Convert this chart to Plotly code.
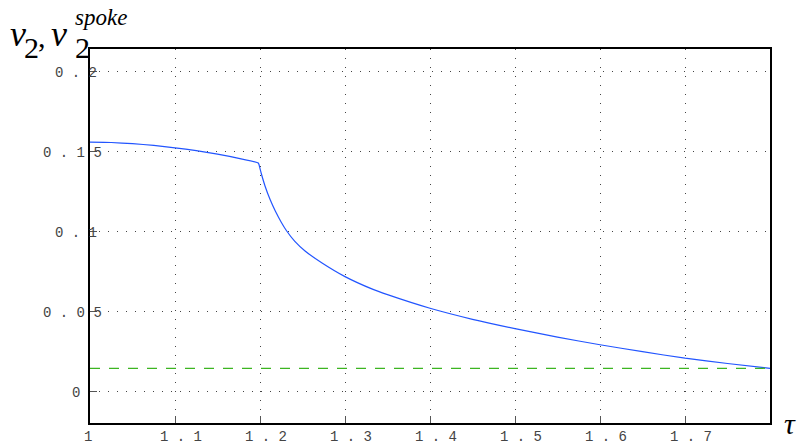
import plotly.graph_objects as go

# Flow coefficient v2 versus tau
tau = [1.000, 1.025, 1.050, 1.075, 1.100, 1.125, 1.150, 1.175, 1.198,
       1.200, 1.202, 1.206, 1.212, 1.218, 1.225, 1.231, 1.241, 1.253,
       1.273, 1.300, 1.333, 1.350, 1.400, 1.450, 1.500, 1.550, 1.600,
       1.650, 1.700, 1.750, 1.800]
v2 = [0.1555, 0.1553, 0.1546, 0.1535, 0.1520, 0.1502, 0.1480, 0.1454, 0.1425,
      0.1390, 0.1350, 0.1280, 0.1195, 0.1125, 0.1055, 0.1003, 0.0935, 0.0875,
      0.0800, 0.0715, 0.0635, 0.0602, 0.0517, 0.0448, 0.0390, 0.0337, 0.0289,
      0.0246, 0.0205, 0.0172, 0.0142]

# Constant spoke value
v2_spoke = 0.0142
tau_span = [1.0, 1.8]

x_ticks = [1.0, 1.1, 1.2, 1.3, 1.4, 1.5, 1.6, 1.7]
x_tick_text = ["1", "1 . 1", "1 . 2", "1 . 3", "1 . 4", "1 . 5", "1 . 6", "1 . 7"]
y_ticks = [0.0, 0.05, 0.10, 0.15, 0.20]
y_tick_text = ["0", "0 . 0 5", "0 . 1", "0 . 1 5", "0 . 2"]

W, H = 800, 444
ML, MR, MT, MB = 90, 30, 49, 21
PW, PH = W - ML - MR, H - MT - MB


def paper_x(px):
    return (px - ML) / PW


def paper_y(py):
    return (H - MB - py) / PH


fig = go.Figure()
fig.add_trace(go.Scatter(x=tau, y=v2, mode="lines",
                         line=dict(color="#2255ff", width=1.2,
                                   shape="spline", smoothing=0.5),
                         showlegend=False, hoverinfo="skip"))
fig.add_trace(go.Scatter(x=tau_span, y=[v2_spoke] * len(tau_span), mode="lines",
                         line=dict(color="#3cb521", width=1.3, dash="10px,9px"),
                         showlegend=False, hoverinfo="skip"))

tick_font = dict(family="Liberation Mono", size=14, color="#444444")
annotations = []
for val, txt in zip(y_ticks, y_tick_text):
    cx = 72 if len(txt) > 5 else 76
    annotations.append(dict(text=txt, xref="paper", yref="y", x=paper_x(cx), y=val,
                            xanchor="center", yanchor="middle", yshift=-1.5,
                            showarrow=False, font=tick_font))
for val, txt in zip(x_ticks, x_tick_text):
    annotations.append(dict(text=txt, xref="x", yref="paper", x=val, y=0,
                            xanchor="center", yanchor="middle", yshift=-14,
                            xshift=6 if len(txt) > 1 else -2,
                            showarrow=False, font=tick_font))

# Axis symbols
serif = "Liberation Serif"
pieces = [
    ("<i>v</i>", 17.5, 34, 36),
    ("2", 31.5, 48, 30),
    (",", 41.5, 36, 30),
    ("<i>v</i>", 59, 34, 36),
    ("2", 82, 48, 30),
    ("<i>spoke</i>", 101, 18, 23),
    ("<i>τ</i>", 790, 423.5, 30),
]
for txt, px, py, size in pieces:
    annotations.append(dict(text=txt, xref="paper", yref="paper",
                            x=paper_x(px), y=paper_y(py),
                            xanchor="center", yanchor="middle", showarrow=False,
                            font=dict(family=serif, size=size, color="black")))

axis_common = dict(showline=True, mirror=True, linecolor="black", linewidth=1.5,
                   showgrid=True, gridcolor="#444444", gridwidth=1,
                   griddash="1px,8px", zeroline=False,
                   ticks="inside", ticklen=7, tickcolor="#555555",
                   showticklabels=False)

fig.update_layout(
    width=W, height=H,
    margin=dict(l=ML, r=MR, t=MT, b=MB),
    paper_bgcolor="white", plot_bgcolor="white",
    xaxis=dict(range=[1.0, 1.8], tickvals=x_ticks, **axis_common),
    yaxis=dict(range=[-0.02, 0.21375], tickvals=y_ticks, **axis_common),
    annotations=annotations,
)

fig.write_html("out.html")
